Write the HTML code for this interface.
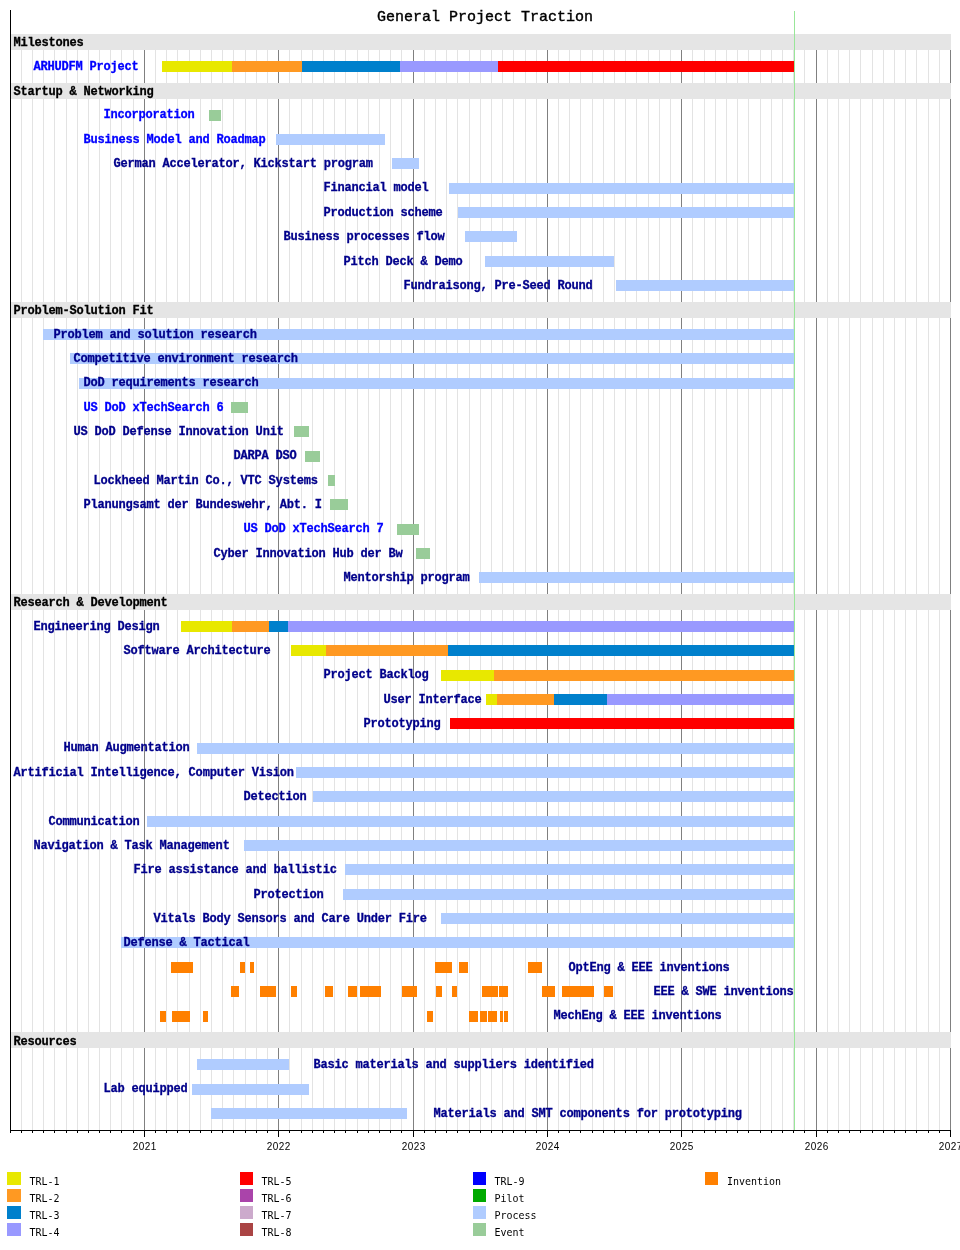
<!DOCTYPE html>
<html lang="en"><head><meta charset="utf-8"><title>General Project Traction</title>
<style>
html,body{margin:0;padding:0;background:#fff}
body{width:960px;height:1250px;position:relative;overflow:hidden;font-family:"Liberation Mono","DejaVu Sans Mono",monospace}
#c{position:absolute;left:0;top:0;width:960px;height:1250px;overflow:hidden;background:#fff}
#c div{position:absolute}
.g{top:50px;width:1px;height:1080px;background:#e3e3e3}
.gy{top:50px;width:1px;height:1080px;background:#808080}
.bd{left:11px;width:940px;height:16px;background:#e5e5e5}
.b{height:11px}
.t{font-weight:bold;font-size:12px;letter-spacing:-0.2px;line-height:14px;height:14px;white-space:pre;-webkit-text-stroke:0.3px}
.h{color:#000}
.n{color:#00008b}
.u{color:#0000ff}
.tk{top:1131px;width:1px;height:2px;background:#000}
.tK{top:1131px;width:1px;height:6px;background:#000}
.yl{top:1140px;width:48px;margin-left:-23.3px;text-align:center;font-family:"Liberation Sans","DejaVu Sans",sans-serif;font-size:10px;letter-spacing:0.44px;line-height:13px;height:13px;white-space:pre;color:#000;transform:scaleY(1.12);transform-origin:50% 50%}
.ls{width:14px;height:13px}
.lt{font-family:"DejaVu Sans Mono","Liberation Mono",monospace;font-size:10px;letter-spacing:-0.02px;line-height:13px;height:13px;white-space:pre;color:#000;transform:scaleY(1.1);transform-origin:0 50%}
#ttl{left:377px;top:9px;-webkit-text-stroke:0.4px;font-size:15px;line-height:17px;height:17px;white-space:pre;color:#000}
.cy{background:#e8e800}
.co{background:#ff9922}
.cb{background:#0080cc}
.cl{background:#9999ff}
.cr{background:#ff0000}
.cp{background:#b0ccff}
.ce{background:#99cc99}
.ci{background:#ff8000}
</style></head><body><div id="c">
<div class="g" style="left:21px"></div><div class="g" style="left:32px"></div><div class="g" style="left:43px"></div><div class="g" style="left:54px"></div><div class="g" style="left:66px"></div><div class="g" style="left:77px"></div><div class="g" style="left:88px"></div><div class="g" style="left:99px"></div><div class="g" style="left:110px"></div><div class="g" style="left:121px"></div><div class="g" style="left:133px"></div><div class="gy" style="left:144px"></div><div class="g" style="left:155px"></div><div class="g" style="left:166px"></div><div class="g" style="left:177px"></div><div class="g" style="left:189px"></div><div class="g" style="left:200px"></div><div class="g" style="left:211px"></div><div class="g" style="left:222px"></div><div class="g" style="left:233px"></div><div class="g" style="left:245px"></div><div class="g" style="left:256px"></div><div class="g" style="left:267px"></div><div class="gy" style="left:278px"></div><div class="g" style="left:289px"></div><div class="g" style="left:301px"></div><div class="g" style="left:312px"></div><div class="g" style="left:323px"></div><div class="g" style="left:334px"></div><div class="g" style="left:345px"></div><div class="g" style="left:357px"></div><div class="g" style="left:368px"></div><div class="g" style="left:379px"></div><div class="g" style="left:390px"></div><div class="g" style="left:401px"></div><div class="gy" style="left:413px"></div><div class="g" style="left:424px"></div><div class="g" style="left:435px"></div><div class="g" style="left:446px"></div><div class="g" style="left:457px"></div><div class="g" style="left:469px"></div><div class="g" style="left:480px"></div><div class="g" style="left:491px"></div><div class="g" style="left:502px"></div><div class="g" style="left:513px"></div><div class="g" style="left:525px"></div><div class="g" style="left:536px"></div><div class="gy" style="left:547px"></div><div class="g" style="left:558px"></div><div class="g" style="left:569px"></div><div class="g" style="left:580px"></div><div class="g" style="left:592px"></div><div class="g" style="left:603px"></div><div class="g" style="left:614px"></div><div class="g" style="left:625px"></div><div class="g" style="left:636px"></div><div class="g" style="left:648px"></div><div class="g" style="left:659px"></div><div class="g" style="left:670px"></div><div class="gy" style="left:681px"></div><div class="g" style="left:692px"></div><div class="g" style="left:704px"></div><div class="g" style="left:715px"></div><div class="g" style="left:726px"></div><div class="g" style="left:737px"></div><div class="g" style="left:748px"></div><div class="g" style="left:760px"></div><div class="g" style="left:771px"></div><div class="g" style="left:782px"></div><div class="g" style="left:793px"></div><div class="g" style="left:804px"></div><div class="gy" style="left:816px"></div><div class="g" style="left:827px"></div><div class="g" style="left:838px"></div><div class="g" style="left:849px"></div><div class="g" style="left:860px"></div><div class="g" style="left:872px"></div><div class="g" style="left:883px"></div><div class="g" style="left:894px"></div><div class="g" style="left:905px"></div><div class="g" style="left:916px"></div><div class="g" style="left:928px"></div><div class="g" style="left:939px"></div><div class="gy" style="left:950px"></div>
<div class="bd" style="top:34px"></div><div class="bd" style="top:83px"></div><div class="bd" style="top:302px"></div><div class="bd" style="top:594px"></div><div class="bd" style="top:1032px"></div>
<div style="left:794px;top:11px;width:1px;height:1119px;background:#99e699"></div>
<div class="b cy" style="left:162px;top:61px;width:70px"></div><div class="b co" style="left:232px;top:61px;width:70px"></div><div class="b cb" style="left:302px;top:61px;width:98px"></div><div class="b cl" style="left:400px;top:61px;width:98px"></div><div class="b cr" style="left:498px;top:61px;width:296px"></div>
<div class="b ce" style="left:209px;top:110px;width:12px"></div>
<div class="b cp" style="left:276px;top:134px;width:109px"></div>
<div class="b cp" style="left:392px;top:158px;width:27px"></div>
<div class="b cp" style="left:449px;top:183px;width:345px"></div>
<div class="b cp" style="left:458px;top:207px;width:336px"></div>
<div class="b cp" style="left:465px;top:231px;width:52px"></div>
<div class="b cp" style="left:485px;top:256px;width:129px"></div>
<div class="b cp" style="left:616px;top:280px;width:178px"></div>
<div class="b cp" style="left:43px;top:329px;width:751px"></div>
<div class="b cp" style="left:70px;top:353px;width:724px"></div>
<div class="b cp" style="left:79px;top:378px;width:715px"></div>
<div class="b ce" style="left:231px;top:402px;width:17px"></div>
<div class="b ce" style="left:294px;top:426px;width:15px"></div>
<div class="b ce" style="left:305px;top:451px;width:15px"></div>
<div class="b ce" style="left:328px;top:475px;width:7px"></div>
<div class="b ce" style="left:330px;top:499px;width:18px"></div>
<div class="b ce" style="left:397px;top:524px;width:22px"></div>
<div class="b ce" style="left:416px;top:548px;width:14px"></div>
<div class="b cp" style="left:479px;top:572px;width:315px"></div>
<div class="b cy" style="left:181px;top:621px;width:51px"></div><div class="b co" style="left:232px;top:621px;width:37px"></div><div class="b cb" style="left:269px;top:621px;width:19px"></div><div class="b cl" style="left:288px;top:621px;width:506px"></div>
<div class="b cy" style="left:291px;top:645px;width:35px"></div><div class="b co" style="left:326px;top:645px;width:122px"></div><div class="b cb" style="left:448px;top:645px;width:346px"></div>
<div class="b cy" style="left:441px;top:670px;width:53px"></div><div class="b co" style="left:494px;top:670px;width:300px"></div>
<div class="b cy" style="left:486px;top:694px;width:11px"></div><div class="b co" style="left:497px;top:694px;width:57px"></div><div class="b cb" style="left:554px;top:694px;width:53px"></div><div class="b cl" style="left:607px;top:694px;width:187px"></div>
<div class="b cr" style="left:450px;top:718px;width:344px"></div>
<div class="b cp" style="left:197px;top:743px;width:597px"></div>
<div class="b cp" style="left:296px;top:767px;width:498px"></div>
<div class="b cp" style="left:313px;top:791px;width:481px"></div>
<div class="b cp" style="left:147px;top:816px;width:647px"></div>
<div class="b cp" style="left:244px;top:840px;width:550px"></div>
<div class="b cp" style="left:345px;top:864px;width:449px"></div>
<div class="b cp" style="left:343px;top:889px;width:451px"></div>
<div class="b cp" style="left:441px;top:913px;width:353px"></div>
<div class="b cp" style="left:121px;top:937px;width:673px"></div>
<div class="b ci" style="left:171px;top:962px;width:22px"></div><div class="b ci" style="left:240px;top:962px;width:5px"></div><div class="b ci" style="left:250px;top:962px;width:4px"></div><div class="b ci" style="left:435px;top:962px;width:17px"></div><div class="b ci" style="left:459px;top:962px;width:9px"></div><div class="b ci" style="left:528px;top:962px;width:14px"></div>
<div class="b ci" style="left:231px;top:986px;width:8px"></div><div class="b ci" style="left:260px;top:986px;width:16px"></div><div class="b ci" style="left:291px;top:986px;width:6px"></div><div class="b ci" style="left:325px;top:986px;width:8px"></div><div class="b ci" style="left:348px;top:986px;width:9px"></div><div class="b ci" style="left:360px;top:986px;width:21px"></div><div class="b ci" style="left:402px;top:986px;width:15px"></div><div class="b ci" style="left:436px;top:986px;width:6px"></div><div class="b ci" style="left:452px;top:986px;width:5px"></div><div class="b ci" style="left:482px;top:986px;width:16px"></div><div class="b ci" style="left:499px;top:986px;width:9px"></div><div class="b ci" style="left:542px;top:986px;width:13px"></div><div class="b ci" style="left:562px;top:986px;width:32px"></div><div class="b ci" style="left:604px;top:986px;width:9px"></div>
<div class="b ci" style="left:160px;top:1011px;width:6px"></div><div class="b ci" style="left:172px;top:1011px;width:18px"></div><div class="b ci" style="left:203px;top:1011px;width:5px"></div><div class="b ci" style="left:427px;top:1011px;width:6px"></div><div class="b ci" style="left:469px;top:1011px;width:9px"></div><div class="b ci" style="left:480px;top:1011px;width:7px"></div><div class="b ci" style="left:488px;top:1011px;width:9px"></div><div class="b ci" style="left:500px;top:1011px;width:3px"></div><div class="b ci" style="left:504px;top:1011px;width:4px"></div>
<div class="b cp" style="left:197px;top:1059px;width:92px"></div>
<div class="b cp" style="left:192px;top:1084px;width:117px"></div>
<div class="b cp" style="left:211px;top:1108px;width:196px"></div>
<div style="left:10px;top:10px;width:1px;height:1121px;background:#000"></div><div style="left:10px;top:1130px;width:941px;height:1px;background:#000"></div>
<div class="tk" style="left:10px"></div><div class="tk" style="left:21px"></div><div class="tk" style="left:32px"></div><div class="tk" style="left:43px"></div><div class="tk" style="left:54px"></div><div class="tk" style="left:66px"></div><div class="tk" style="left:77px"></div><div class="tk" style="left:88px"></div><div class="tk" style="left:99px"></div><div class="tk" style="left:110px"></div><div class="tk" style="left:121px"></div><div class="tk" style="left:133px"></div><div class="tK" style="left:144px"></div><div class="tk" style="left:155px"></div><div class="tk" style="left:166px"></div><div class="tk" style="left:177px"></div><div class="tk" style="left:189px"></div><div class="tk" style="left:200px"></div><div class="tk" style="left:211px"></div><div class="tk" style="left:222px"></div><div class="tk" style="left:233px"></div><div class="tk" style="left:245px"></div><div class="tk" style="left:256px"></div><div class="tk" style="left:267px"></div><div class="tK" style="left:278px"></div><div class="tk" style="left:289px"></div><div class="tk" style="left:301px"></div><div class="tk" style="left:312px"></div><div class="tk" style="left:323px"></div><div class="tk" style="left:334px"></div><div class="tk" style="left:345px"></div><div class="tk" style="left:357px"></div><div class="tk" style="left:368px"></div><div class="tk" style="left:379px"></div><div class="tk" style="left:390px"></div><div class="tk" style="left:401px"></div><div class="tK" style="left:413px"></div><div class="tk" style="left:424px"></div><div class="tk" style="left:435px"></div><div class="tk" style="left:446px"></div><div class="tk" style="left:457px"></div><div class="tk" style="left:469px"></div><div class="tk" style="left:480px"></div><div class="tk" style="left:491px"></div><div class="tk" style="left:502px"></div><div class="tk" style="left:513px"></div><div class="tk" style="left:525px"></div><div class="tk" style="left:536px"></div><div class="tK" style="left:547px"></div><div class="tk" style="left:558px"></div><div class="tk" style="left:569px"></div><div class="tk" style="left:580px"></div><div class="tk" style="left:592px"></div><div class="tk" style="left:603px"></div><div class="tk" style="left:614px"></div><div class="tk" style="left:625px"></div><div class="tk" style="left:636px"></div><div class="tk" style="left:648px"></div><div class="tk" style="left:659px"></div><div class="tk" style="left:670px"></div><div class="tK" style="left:681px"></div><div class="tk" style="left:692px"></div><div class="tk" style="left:704px"></div><div class="tk" style="left:715px"></div><div class="tk" style="left:726px"></div><div class="tk" style="left:737px"></div><div class="tk" style="left:748px"></div><div class="tk" style="left:760px"></div><div class="tk" style="left:771px"></div><div class="tk" style="left:782px"></div><div class="tk" style="left:793px"></div><div class="tk" style="left:804px"></div><div class="tK" style="left:816px"></div><div class="tk" style="left:827px"></div><div class="tk" style="left:838px"></div><div class="tk" style="left:849px"></div><div class="tk" style="left:860px"></div><div class="tk" style="left:872px"></div><div class="tk" style="left:883px"></div><div class="tk" style="left:894px"></div><div class="tk" style="left:905px"></div><div class="tk" style="left:916px"></div><div class="tk" style="left:928px"></div><div class="tk" style="left:939px"></div><div class="tK" style="left:950px"></div>
<div class="yl" style="left:144px">2021</div><div class="yl" style="left:278px">2022</div><div class="yl" style="left:413px">2023</div><div class="yl" style="left:547px">2024</div><div class="yl" style="left:681px">2025</div><div class="yl" style="left:816px">2026</div><div class="yl" style="left:950px">2027</div>
<div class="t h" style="left:13.6px;top:36px">Milestones</div>
<div class="t h" style="left:13.6px;top:85px">Startup &amp; Networking</div>
<div class="t h" style="left:13.6px;top:304px">Problem-Solution Fit</div>
<div class="t h" style="left:13.6px;top:596px">Research &amp; Development</div>
<div class="t h" style="left:13.6px;top:1035px">Resources</div>
<div class="t u" style="left:33.6px;top:60px">ARHUDFM Project</div>
<div class="t u" style="left:103.6px;top:108px">Incorporation</div>
<div class="t u" style="left:83.6px;top:133px">Business Model and Roadmap</div>
<div class="t n" style="left:113.6px;top:157px">German Accelerator, Kickstart program</div>
<div class="t n" style="left:323.6px;top:181px">Financial model</div>
<div class="t n" style="left:323.6px;top:206px">Production scheme</div>
<div class="t n" style="left:283.6px;top:230px">Business processes flow</div>
<div class="t n" style="left:343.6px;top:255px">Pitch Deck &amp; Demo</div>
<div class="t n" style="left:403.6px;top:279px">Fundraisong, Pre-Seed Round</div>
<div class="t n" style="left:53.6px;top:328px">Problem and solution research</div>
<div class="t n" style="left:73.6px;top:352px">Competitive environment research</div>
<div class="t n" style="left:83.6px;top:376px">DoD requirements research</div>
<div class="t u" style="left:83.6px;top:401px">US DoD xTechSearch 6</div>
<div class="t n" style="left:73.6px;top:425px">US DoD Defense Innovation Unit</div>
<div class="t n" style="left:233.6px;top:449px">DARPA DSO</div>
<div class="t n" style="left:93.6px;top:474px">Lockheed Martin Co., VTC Systems</div>
<div class="t n" style="left:83.6px;top:498px">Planungsamt der Bundeswehr, Abt. I</div>
<div class="t u" style="left:243.6px;top:522px">US DoD xTechSearch 7</div>
<div class="t n" style="left:213.6px;top:547px">Cyber Innovation Hub der Bw</div>
<div class="t n" style="left:343.6px;top:571px">Mentorship program</div>
<div class="t n" style="left:33.6px;top:620px">Engineering Design</div>
<div class="t n" style="left:123.6px;top:644px">Software Architecture</div>
<div class="t n" style="left:323.6px;top:668px">Project Backlog</div>
<div class="t n" style="left:383.6px;top:693px">User Interface</div>
<div class="t n" style="left:363.6px;top:717px">Prototyping</div>
<div class="t n" style="left:63.6px;top:741px">Human Augmentation</div>
<div class="t n" style="left:13.6px;top:766px">Artificial Intelligence, Computer Vision</div>
<div class="t n" style="left:243.6px;top:790px">Detection</div>
<div class="t n" style="left:48.6px;top:815px">Communication</div>
<div class="t n" style="left:33.6px;top:839px">Navigation &amp; Task Management</div>
<div class="t n" style="left:133.6px;top:863px">Fire assistance and ballistic</div>
<div class="t n" style="left:253.6px;top:888px">Protection</div>
<div class="t n" style="left:153.6px;top:912px">Vitals Body Sensors and Care Under Fire</div>
<div class="t n" style="left:123.6px;top:936px">Defense &amp; Tactical</div>
<div class="t n" style="left:568.6px;top:961px">OptEng &amp; EEE inventions</div>
<div class="t n" style="left:653.6px;top:985px">EEE &amp; SWE inventions</div>
<div class="t n" style="left:553.6px;top:1009px">MechEng &amp; EEE inventions</div>
<div class="t n" style="left:313.6px;top:1058px">Basic materials and suppliers identified</div>
<div class="t n" style="left:103.6px;top:1082px">Lab equipped</div>
<div class="t n" style="left:433.6px;top:1107px">Materials and SMT components for prototyping</div>
<div id="ttl">General Project Traction</div>
<div class="ls" style="left:7px;top:1172px;width:14px;background:#e8e800"></div><div class="lt" style="left:29.5px;top:1175px">TRL-1</div>
<div class="ls" style="left:7px;top:1189px;width:14px;background:#ff9922"></div><div class="lt" style="left:29.5px;top:1192px">TRL-2</div>
<div class="ls" style="left:7px;top:1206px;width:14px;background:#0080cc"></div><div class="lt" style="left:29.5px;top:1209px">TRL-3</div>
<div class="ls" style="left:7px;top:1223px;width:14px;background:#9999ff"></div><div class="lt" style="left:29.5px;top:1226px">TRL-4</div>
<div class="ls" style="left:240px;top:1172px;width:13px;background:#ff0000"></div><div class="lt" style="left:261.5px;top:1175px">TRL-5</div>
<div class="ls" style="left:240px;top:1189px;width:13px;background:#aa44aa"></div><div class="lt" style="left:261.5px;top:1192px">TRL-6</div>
<div class="ls" style="left:240px;top:1206px;width:13px;background:#ccaacc"></div><div class="lt" style="left:261.5px;top:1209px">TRL-7</div>
<div class="ls" style="left:240px;top:1223px;width:13px;background:#aa4444"></div><div class="lt" style="left:261.5px;top:1226px">TRL-8</div>
<div class="ls" style="left:473px;top:1172px;width:13px;background:#0000ff"></div><div class="lt" style="left:494.5px;top:1175px">TRL-9</div>
<div class="ls" style="left:473px;top:1189px;width:13px;background:#00aa00"></div><div class="lt" style="left:494.5px;top:1192px">Pilot</div>
<div class="ls" style="left:473px;top:1206px;width:13px;background:#b0ccff"></div><div class="lt" style="left:494.5px;top:1209px">Process</div>
<div class="ls" style="left:473px;top:1223px;width:13px;background:#99cc99"></div><div class="lt" style="left:494.5px;top:1226px">Event</div>
<div class="ls" style="left:705px;top:1172px;width:13px;background:#ff8000"></div><div class="lt" style="left:727.0px;top:1175px">Invention</div>
</div></body></html>
